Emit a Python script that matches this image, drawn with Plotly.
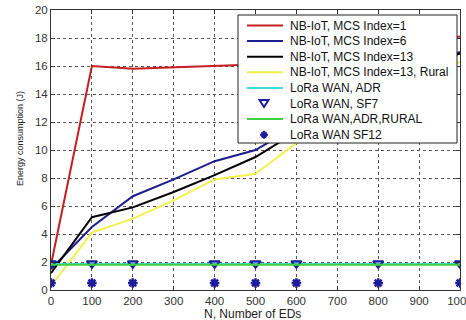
import plotly.graph_objects as go

# Number of end devices
n_eds = [0, 100, 200, 300, 400, 500, 600, 700, 800, 900, 1000]
lora_n = [0, 100, 200, 400, 500, 600, 800, 1000]

# Energy consumption (J)
nb_mcs1 = [1.8, 16.0, 15.8, 15.9, 16.0, 16.1, 16.4, 16.8, 17.3, 17.7, 18.1]
nb_mcs6 = [1.5, 4.5, 6.7, 7.9, 9.2, 10.0, 11.7, 13.2, 14.6, 15.9, 17.0]
nb_mcs13 = [1.2, 5.2, 5.9, 7.0, 8.2, 9.5, 11.3, 12.8, 14.3, 15.7, 16.9]
nb_mcs13_rural = [0.3, 4.1, 5.1, 6.4, 7.9, 8.3, 10.5, 12.0, 13.5, 15.0, 16.3]
lora_adr = [1.85, 1.85, 1.85, 1.85, 1.85, 1.85, 1.85, 1.85]
lora_sf7 = [1.9, 1.9, 1.9, 1.9, 1.9, 1.9, 1.9, 1.9]
lora_adr_rural = [1.8, 1.8, 1.8, 1.8, 1.8, 1.8, 1.8, 1.8]
lora_sf12 = [0.5, 0.5, 0.5, 0.5, 0.5, 0.5, 0.5, 0.5]

x_ticks = [0, 100, 200, 300, 400, 500, 600, 700, 800, 900, 1000]

RED, BLUE, BLACK, YELLOW = "#c41e1e", "#1c1c8c", "#000000", "#f2f24a"
CYAN, GREEN, MARK = "#3ee0e0", "#3ed03e", "#1c1c9c"

W, H = 466, 320
ML, MR, MT, MB = 51, 6, 10, 30
PW, PH = W - ML - MR, H - MT - MB


def px(p):
    """Pixel column -> paper x."""
    return (p - ML) / PW


def py(p):
    """Pixel row -> paper y."""
    return (H - MB - p) / PH


fig = go.Figure()
fig.add_trace(go.Scatter(x=n_eds, y=nb_mcs1, mode="lines", line=dict(color=RED, width=2)))
fig.add_trace(go.Scatter(x=n_eds, y=nb_mcs6, mode="lines", line=dict(color=BLUE, width=2)))
fig.add_trace(go.Scatter(x=n_eds, y=nb_mcs13, mode="lines", line=dict(color=BLACK, width=2)))
fig.add_trace(go.Scatter(x=n_eds, y=nb_mcs13_rural, mode="lines", line=dict(color=YELLOW, width=2)))
fig.add_trace(go.Scatter(x=lora_n, y=lora_adr, mode="lines", line=dict(color=CYAN, width=2)))
fig.add_trace(go.Scatter(x=lora_n, y=lora_sf7, mode="markers",
                         marker=dict(symbol="triangle-down", size=9, color="#5ab8c8",
                                     line=dict(color=MARK, width=2))))
fig.add_trace(go.Scatter(x=lora_n, y=lora_adr_rural, mode="lines", line=dict(color=GREEN, width=2)))
fig.add_trace(go.Scatter(x=lora_n, y=lora_sf12, mode="markers",
                         marker=dict(symbol="asterisk", size=8, color=MARK,
                                     line=dict(color=MARK, width=2.5))))

# Compact boxed legend in the upper right of the axes
names = ["NB-IoT, MCS Index=1", "NB-IoT, MCS Index=6", "NB-IoT, MCS Index=13",
         "NB-IoT, MCS Index=13, Rural", "LoRa WAN, ADR", "LoRa WAN, SF7",
         "LoRa WAN,ADR,RURAL", "LoRa WAN SF12"]
styles = [("line", RED), ("line", BLUE), ("line", BLACK), ("line", YELLOW),
          ("line", CYAN), ("tri", MARK), ("line", GREEN), ("star", MARK)]

shapes = [dict(type="rect", xref="paper", yref="paper", layer="above",
               x0=px(238), x1=px(457), y0=py(143), y1=py(15),
               fillcolor="white", line=dict(color="#222222", width=1))]
annotations = []
row0, step = 25.5, 15.6
for i, (name, (kind, col)) in enumerate(zip(names, styles)):
    yc = row0 + i * step
    if kind == "line":
        shapes.append(dict(type="line", xref="paper", yref="paper", layer="above",
                           x0=px(247), x1=px(283), y0=py(yc), y1=py(yc),
                           line=dict(color=col, width=2)))
    elif kind == "tri":
        path = (f"M {px(259.5)},{py(yc - 3.5)} L {px(268.5)},{py(yc - 3.5)} "
                f"L {px(264)},{py(yc + 3.5)} Z")
        shapes.append(dict(type="path", xref="paper", yref="paper", layer="above",
                           path=path, fillcolor="white", line=dict(color=col, width=2)))
    else:
        path = (f"M {px(264)},{py(yc - 4)} L {px(264)},{py(yc + 4)} "
                f"M {px(260)},{py(yc)} L {px(268)},{py(yc)} "
                f"M {px(261.5)},{py(yc - 2.5)} L {px(266.5)},{py(yc + 2.5)} "
                f"M {px(261.5)},{py(yc + 2.5)} L {px(266.5)},{py(yc - 2.5)}")
        shapes.append(dict(type="path", xref="paper", yref="paper", layer="above",
                           path=path, line=dict(color=col, width=2)))
    annotations.append(dict(text=name, xref="paper", yref="paper", x=px(288), y=py(yc),
                            xanchor="left", yanchor="middle", showarrow=False,
                            font=dict(family="Liberation Sans", size=12, color="#111111")))

# Axis titles
annotations.append(dict(text="N, Number of EDs", xref="paper", yref="paper",
                        x=px(252.5), y=py(313.5), xanchor="center", yanchor="middle",
                        showarrow=False,
                        font=dict(family="Liberation Sans", size=12, color="#222222")))
annotations.append(dict(text="Energy consumption (J)", xref="paper", yref="paper",
                        x=px(20), y=py(139), xanchor="center", yanchor="middle",
                        textangle=-90, showarrow=False,
                        font=dict(family="Liberation Sans", size=9, color="#222222")))

axis_common = dict(
    showline=True, linecolor="#333333", linewidth=1, mirror="ticks",
    ticks="inside", ticklen=4, tickcolor="#333333",
    showgrid=True, gridcolor="#555555", griddash="dot", gridwidth=1,
    zeroline=False, automargin=False,
    tickfont=dict(family="Liberation Sans", size=11.5, color="#333333"),
)

fig.update_layout(
    width=W, height=H,
    margin=dict(l=ML, r=MR, t=MT, b=MB),
    paper_bgcolor="white", plot_bgcolor="white",
    font=dict(family="Liberation Sans", size=12, color="#222222"),
    xaxis=dict(range=[0, 1000], tickvals=x_ticks, ticklabeloverflow="allow", **axis_common),
    yaxis=dict(range=[0, 20], dtick=2, **axis_common),
    shapes=shapes,
    annotations=annotations,
    showlegend=False,
)

fig.write_html("out.html")
